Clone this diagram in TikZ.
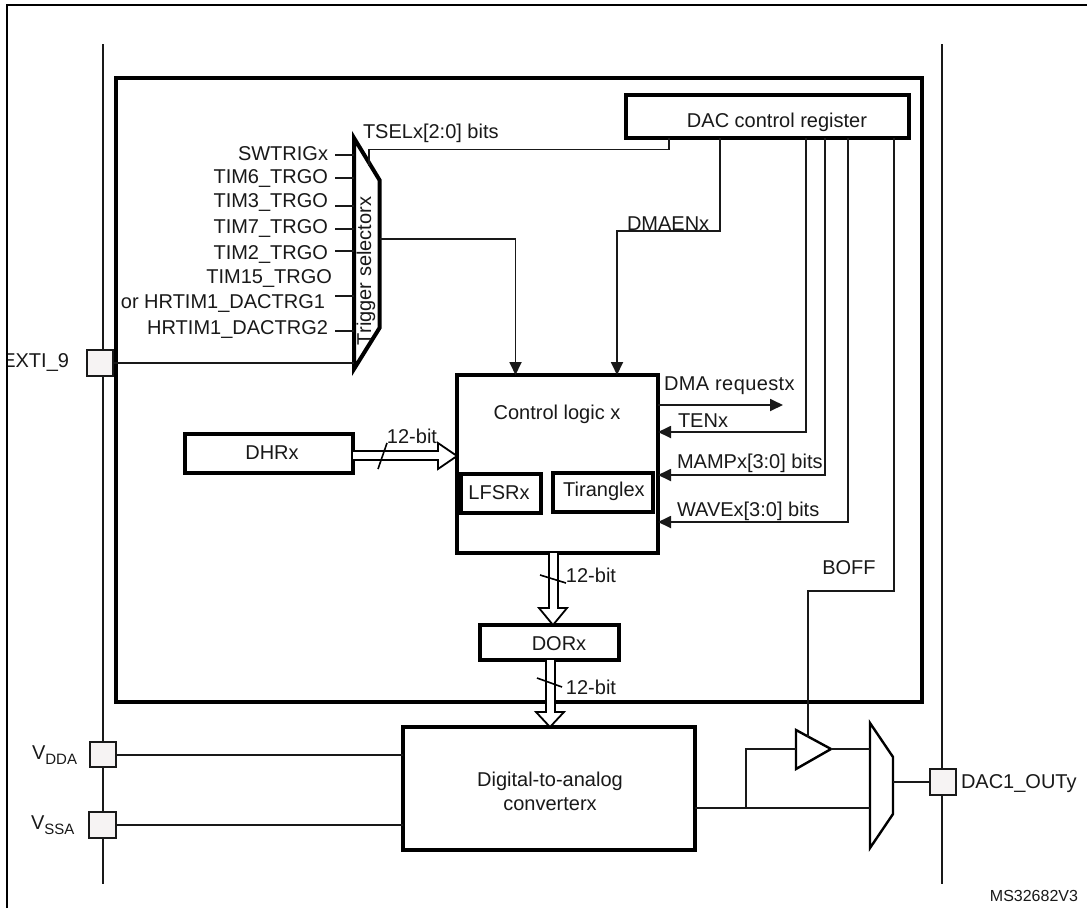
\documentclass[tikz,border=0pt]{standalone}
\usepackage{fontspec}
\setmainfont{Liberation Sans}
\usetikzlibrary{arrows.meta}
\newcommand{\subV}[1]{V\raisebox{-5pt}{\fontsize{15}{15}\selectfont #1}}
\tikzset{
  wire/.style={draw=black!90,line width=1.8pt},
  arr/.style={wire,-{Triangle[length=13pt,width=12pt]}},
  thickbox/.style={draw=black,line width=4pt,inner sep=0pt,outer sep=0pt},
  midbox/.style={draw=black,line width=3.2pt,inner sep=0pt,outer sep=0pt},
  pad/.style={draw=black!90,line width=1.6pt,fill=padfill,inner sep=0pt,outer sep=0pt},
  txt/.style={inner sep=0pt,outer sep=0pt,font=\fontsize{20}{24}\selectfont,text=black!90},
  bus/.style={draw=black,line width=1.8pt,fill=white,line join=miter},
  slash/.style={draw=black,line width=1.6pt},
}
\definecolor{padfill}{HTML}{F6F3F3}
\begin{document}
\begin{tikzpicture}[x=1pt,y=-1pt]
\useasboundingbox (0,0) rectangle (1087,908);
\fill[white] (0,0) rectangle (1087,908);
% frame
\draw[draw=black,line width=1.6pt] (7,908) -- (7,5) -- (1087,5);
% rails
\draw[wire] (103,44) coordinate (railLtop) -- (103,884) coordinate (railLbot);
\draw[wire] (942,44) coordinate (railRtop) -- (942,884) coordinate (railRbot);
% main frame
\node[thickbox,minimum width=806pt,minimum height=624pt] (mainbox) at (519,390) {};
% register
\node[thickbox,minimum width=283pt,minimum height=43pt] (dacreg) at (767.5,116.5) {};
\node[txt] (dacregtxt) at (777,122) {DAC control register};
% control logic
\node[thickbox,minimum width=201pt,minimum height=178pt] (ctrl) at (557.5,464) {};
\node[txt] (ctrltxt) at (557,414) {Control logic x};
\node[midbox,minimum width=80pt,minimum height=39pt] (lfsr) at (501,493.5) {};
\node[txt] (lfsrtxt) at (499,493) {LFSRx};
\node[midbox,minimum width=100pt,minimum height=39pt] (tri) at (603,492.5) {};
\node[txt] (tritxt) at (604,491) {Tiranglex};
% DHR, DOR, DAC
\node[thickbox,minimum width=168pt,minimum height=39pt] (dhr) at (269,453.5) {};
\node[txt] (dhrtxt) at (272,453) {DHRx};
\node[thickbox,minimum width=139pt,minimum height=35pt] (dor) at (549.5,642.5) {};
\node[txt] (dortxt) at (559,644) {DORx};
\node[thickbox,minimum width=292pt,minimum height=123pt] (dac) at (549,788.5) {};
\node[txt,align=center,font=\fontsize{20}{24}\selectfont] (dactxt) at (550,791) {Digital-to-analog\\converterx};
% pads
\node[pad,minimum width=26pt,minimum height=26pt] (exti) at (100,363) {};
\node[pad,minimum width=26pt,minimum height=25pt] (vdda) at (103,754.5) {};
\node[pad,minimum width=27pt,minimum height=26pt] (vssa) at (102.5,825) {};
\node[pad,minimum width=26pt,minimum height=26pt] (outp) at (943,782) {};
\begin{scope}
\clip (8,340) rectangle (90,385);
\node[txt,anchor=east] (extitxt) at (69,362) {EXTI\_9};
\end{scope}
\node[txt,anchor=west] (vddatxt) at (32,755) {\subV{DDA}};
\node[txt,anchor=west] (vssatxt) at (31,825) {\subV{SSA}};
\node[txt,anchor=west] (outtxt) at (961,784) {DAC1\_OUTy};
\node[txt,anchor=east,font=\fontsize{16}{20}\selectfont] (mstxt) at (1078,896) {MS32682V3};
% trigger selector
\coordinate (tsA) at (354,138);
\coordinate (tsB) at (379.5,180);
\coordinate (tsC) at (379.5,328);
\coordinate (tsD) at (354,369);
\draw[draw=black,line width=4pt,line join=miter] (tsA) -- (tsB) -- (tsC) -- (tsD) -- cycle;
\node[txt,rotate=90] (tstxt) at (366,271) {Trigger selectorx};
% inputs
\foreach \n/\yy/\xr/\ly/\t in {a/155/328/154/SWTRIGx,b/178/328/179/TIM6\_TRGO,c/206/328/203/TIM3\_TRGO,d/229/328/228/TIM7\_TRGO,e/251/328/254/TIM2\_TRGO,f/331/328/329/HRTIM1\_DACTRG2}{
  \node[txt,anchor=east] (in\n) at (\xr,\ly) {\t};
  \draw[wire] (335,\yy) -- (tsA |- 0,\yy);
}
\node[txt,anchor=east] (ing) at (332,278) {TIM15\_TRGO};
\node[txt,anchor=east] (inh) at (325,303) {or HRTIM1\_DACTRG1};
\draw[wire] (335,296) -- (tsA |- 0,296);
\draw[wire] (exti.east |- 0,363) -- (tsA |- 0,363);
% register connectors
\coordinate (tselturn) at (369,149.5);
\draw[wire] (669,0 |- dacreg.south) -- (669,149.5) -- (tselturn) -- (369,166);
\node[txt,anchor=west] (tseltxt) at (363,133) {TSELx[2:0] bits};
\draw[arr] (tsB |- 0,239) -- (515.5,239) -- (515.5,0 |- ctrl.north);
\draw[arr] (720,0 |- dacreg.south) -- (720,231) -- (617,231) -- (617,0 |- ctrl.north);
\node[txt,anchor=west] (dmaentxt) at (627,224) {DMAENx};
\draw[arr] (ctrl.east |- 0,405) -- (783,405);
\node[txt,anchor=west] (dmareq) at (664,386) {\addfontfeature{LetterSpace=2}DMA requestx};
\draw[arr] (806,0 |- dacreg.south) -- (806,432) -- (ctrl.east |- 0,432);
\node[txt,anchor=west] (tentxt) at (678,421) {TENx};
\draw[arr] (825,0 |- dacreg.south) -- (825,475) -- (ctrl.east |- 0,475);
\node[txt,anchor=west] (mamptxt) at (677,463) {MAMPx[3:0] bits};
\draw[arr] (848,0 |- dacreg.south) -- (848,522) -- (ctrl.east |- 0,522);
\node[txt,anchor=west] (wavetxt) at (677,511) {WAVEx[3:0] bits};
% buses
\draw[bus] (dhr.east |- 0,451) -- (438,451) -- (438,443) -- (ctrl.west |- 0,456) -- (438,469) -- (438,460) -- (dhr.east |- 0,460);
\draw[slash] (387,443) -- (378,469);
\node[txt] (bit1) at (412,436) {12-bit};
\draw[bus] (549,0 |- ctrl.south) -- (549,608) -- (539,608) -- (553,0 |- dor.north) -- (567,608) -- (558,608) -- (558,0 |- ctrl.south);
\draw[slash] (540,575) -- (566,583);
\node[txt] (bit2) at (591,575) {12-bit};
\draw[bus] (546,0 |- dor.south) -- (546,712) -- (536,712) -- (550,0 |- dac.north) -- (564,712) -- (555,712) -- (555,0 |- dor.south);
\draw[slash] (537,678) -- (562,687);
\node[txt] (bit3) at (591,687) {12-bit};
% analog supplies
\draw[wire] (vdda.east |- 0,755) -- (dac.west |- 0,755);
\draw[wire] (vssa.east |- 0,825) -- (dac.west |- 0,825);
% output stage
\coordinate (ampA) at (796,730);
\coordinate (ampB) at (796,769);
\coordinate (ampC) at (831,749);
\draw[draw=black,line width=2.4pt,line join=miter,fill=white] (ampA) -- (ampC) -- (ampB) -- cycle;
\coordinate (muxA) at (870,723);
\coordinate (muxB) at (893,757);
\coordinate (muxC) at (893,814);
\coordinate (muxD) at (870,848);
\draw[draw=black,line width=2.4pt,line join=miter,fill=white] (muxA) -- (muxB) -- (muxC) -- (muxD) -- cycle;
\draw[wire] (dac.east |- 0,808) -- (muxA |- 0,808);
\draw[wire] (746,808) -- (746,749) -- (ampA |- 0,749);
\draw[wire] (ampC) -- (muxA |- ampC);
\draw[wire] (muxB |- 0,782) -- (outp.west |- 0,782);
\draw[wire] (808,737) -- (808,591) -- (894,591) -- (894,0 |- dacreg.south);
\node[txt] (bofftxt) at (849,568) {BOFF};
\end{tikzpicture}
\end{document}
